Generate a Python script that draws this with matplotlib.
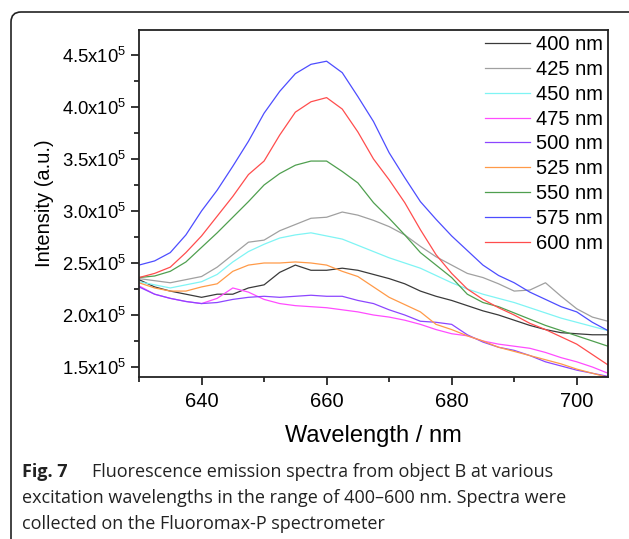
import numpy as np
import matplotlib
matplotlib.use('Agg')
import matplotlib.pyplot as plt
from matplotlib.patches import FancyBboxPatch
from matplotlib.ticker import FixedLocator, MultipleLocator, FuncFormatter

plt.rcParams['font.family'] = ['Liberation Sans', 'DejaVu Sans']
plt.rcParams['mathtext.fontset'] = 'custom'
plt.rcParams['mathtext.rm'] = 'Liberation Sans'

# wavelength grid (nm), intensities in units of 1e5 a.u.
wavelength = np.linspace(630, 705, 31)

labels = ['400 nm', '425 nm', '450 nm', '475 nm', '500 nm',
          '525 nm', '550 nm', '575 nm', '600 nm']
colors = ['#3a3a3a', '#a0a0a0', '#7ff4f4', '#ff4cff', '#8c46ff',
          '#ff9a48', '#4f9f4f', '#4d4dff', '#ff4d4d']

ex400 = [2.34, 2.27, 2.23, 2.20, 2.17, 2.20, 2.20, 2.26, 2.29, 2.41, 2.48,
         2.43, 2.43, 2.45, 2.43, 2.39, 2.35, 2.30, 2.23, 2.18, 2.14, 2.09,
         2.04, 2.00, 1.95, 1.90, 1.86, 1.83, 1.82, 1.81, 1.81]
ex425 = [2.35, 2.33, 2.31, 2.34, 2.37, 2.46, 2.58, 2.70, 2.72, 2.81, 2.87,
         2.93, 2.94, 2.99, 2.96, 2.91, 2.85, 2.77, 2.66, 2.56, 2.48, 2.40,
         2.36, 2.30, 2.23, 2.24, 2.31, 2.18, 2.06, 1.98, 1.94]
ex450 = [2.32, 2.29, 2.26, 2.29, 2.32, 2.39, 2.51, 2.61, 2.68, 2.74, 2.77,
         2.79, 2.76, 2.73, 2.67, 2.61, 2.55, 2.50, 2.45, 2.38, 2.31, 2.25,
         2.20, 2.16, 2.12, 2.07, 2.02, 1.97, 1.93, 1.89, 1.85]
ex475 = [2.28, 2.20, 2.16, 2.13, 2.11, 2.16, 2.26, 2.22, 2.15, 2.11, 2.09,
         2.08, 2.07, 2.05, 2.03, 2.00, 1.98, 1.95, 1.91, 1.86, 1.82, 1.80,
         1.75, 1.72, 1.70, 1.68, 1.64, 1.59, 1.55, 1.50, 1.44]
ex500 = [2.27, 2.20, 2.16, 2.13, 2.11, 2.12, 2.15, 2.17, 2.18, 2.17, 2.18,
         2.19, 2.18, 2.18, 2.14, 2.11, 2.05, 2.00, 1.94, 1.93, 1.91, 1.81,
         1.74, 1.69, 1.66, 1.61, 1.55, 1.51, 1.47, 1.44, 1.41]
ex525 = [2.31, 2.26, 2.23, 2.23, 2.27, 2.30, 2.42, 2.48, 2.50, 2.50, 2.51,
         2.50, 2.48, 2.42, 2.37, 2.27, 2.17, 2.10, 2.03, 1.91, 1.86, 1.80,
         1.75, 1.69, 1.65, 1.61, 1.57, 1.53, 1.48, 1.44, 1.40]
ex550 = [2.36, 2.375, 2.42, 2.51, 2.65, 2.79, 2.94, 3.09, 3.25, 3.36, 3.44,
         3.48, 3.48, 3.38, 3.27, 3.08, 2.93, 2.77, 2.60, 2.48, 2.36, 2.20,
         2.12, 2.08, 2.02, 1.96, 1.90, 1.85, 1.80, 1.75, 1.70]
ex575 = [2.48, 2.52, 2.60, 2.77, 3.00, 3.20, 3.43, 3.67, 3.94, 4.15, 4.32,
         4.41, 4.44, 4.33, 4.10, 3.86, 3.56, 3.32, 3.09, 2.92, 2.76, 2.62,
         2.48, 2.38, 2.31, 2.22, 2.15, 2.08, 2.03, 1.93, 1.85]
ex600 = [2.36, 2.40, 2.46, 2.60, 2.76, 2.95, 3.14, 3.35, 3.48, 3.73, 3.95,
         4.05, 4.09, 3.98, 3.76, 3.50, 3.30, 3.08, 2.82, 2.58, 2.40, 2.25,
         2.15, 2.07, 2.00, 1.92, 1.86, 1.79, 1.72, 1.62, 1.52]

series = [ex400, ex425, ex450, ex475, ex500, ex525, ex550, ex575, ex600]

y_ticks = [1.5, 2.0, 2.5, 3.0, 3.5, 4.0, 4.5]
x_ticks = [640, 660, 680, 700]

caption_head = 'Fig. 7'
caption_lines = [
  'Fluorescence emission spectra from object B at various',
  'excitation wavelengths in the range of 400\u2013600 nm. Spectra were',
  'collected on the Fluoromax-P spectrometer',
]


def sci_label(v, pos=None):
  return r'$\mathregular{%.1fx10^{5}}$' % (v / 1e5)


W, H = 629, 539
fig = plt.figure(figsize=(W / 100, H / 100), dpi=100)
ax = fig.add_axes([139 / W, 1 - 377 / H, (608 - 139) / W, (377 - 30) / H])

for vals, lab, col in zip(series, labels, colors):
  ax.plot(wavelength, np.asarray(vals) * 1e5, color=col, lw=0.9, label=lab)

ax.set_xlim(630, 705)
ax.set_ylim(1.404e5, 4.74e5)

ax.xaxis.set_major_locator(FixedLocator(x_ticks))
ax.xaxis.set_minor_locator(MultipleLocator(10))
ax.yaxis.set_major_locator(FixedLocator([v * 1e5 for v in y_ticks]))
ax.yaxis.set_minor_locator(MultipleLocator(0.25e5))
ax.yaxis.set_major_formatter(FuncFormatter(sci_label))

ax.tick_params(which='major', direction='out', length=6, width=1.1, labelsize=13.3)
ax.tick_params(which='minor', direction='out', length=3.5, width=1.1)
ax.tick_params(axis='x', which='major', labelsize=14.5, pad=5)
ax.tick_params(axis='y', which='major', pad=3)
for sp in ax.spines.values():
  sp.set_linewidth(1.3)
  sp.set_color('#222222')

ax.set_xlabel('Wavelength / nm', fontsize=17, labelpad=10)
ax.set_ylabel('Intensity (a.u.)', fontsize=14.5, labelpad=6)

ax.legend(loc='upper right', frameon=False, fontsize=14.5, handlelength=2.25,
          handletextpad=0.3, labelspacing=0.29, borderaxespad=0.05,
          borderpad=0.2)

# rounded frame around the figure panel
frame = FancyBboxPatch((0.11, -0.6), 6.4, 5.87,
                       boxstyle='round,pad=0,rounding_size=0.1',
                       transform=fig.dpi_scale_trans, fill=False,
                       lw=1.2, ec='#222222')
fig.patches.append(frame)

cap_font = ['Open Sans', 'DejaVu Sans']
cap_size = 13
fig.text(22 / W, 1 - 477 / H, caption_head, family=cap_font, weight='bold',
         fontsize=cap_size, va='baseline', color='#222222')
fig.text(92 / W, 1 - 477 / H, caption_lines[0], family=cap_font,
         fontsize=cap_size, va='baseline', color='#222222')
fig.text(22 / W, 1 - 503 / H, caption_lines[1], family=cap_font,
         fontsize=cap_size, va='baseline', color='#222222')
fig.text(22 / W, 1 - 529 / H, caption_lines[2], family=cap_font,
         fontsize=cap_size, va='baseline', color='#222222')

fig.savefig('out.png', dpi=100)
